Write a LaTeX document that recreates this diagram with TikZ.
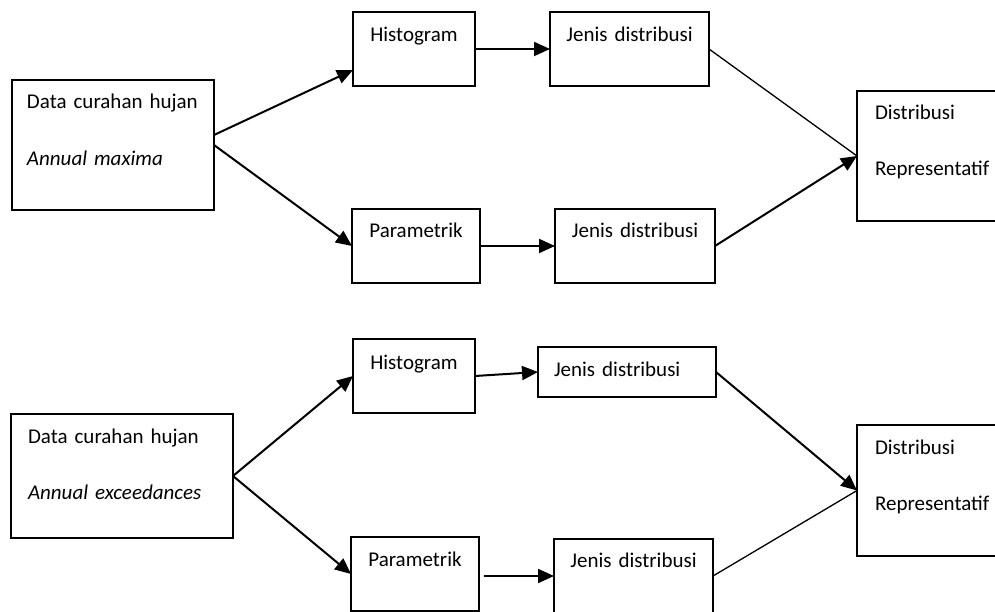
\documentclass[tikz,border=0pt]{standalone}
\usepackage{fontspec}
\setmainfont{Carlito}
\usetikzlibrary{arrows.meta}
\begin{document}
\begin{tikzpicture}[
    x=1pt, y=-1pt,
    box/.style={draw, line width=1.5pt, anchor=north west, outer sep=0pt, inner sep=0pt, align=center, font=\fontsize{21}{56.5}\selectfont},
    arrow/.style={-{Triangle[length=16pt,width=14pt]}, line width=2pt},
    link/.style={line width=1.3pt}
]
    \useasboundingbox (0,0) rectangle (995,612);

    % annual maxima
    \node[box, align=left, inner xsep=15pt, text width=172pt, text height=29pt, text depth=101pt] (data1) at (12,80) {Data curahan hujan\\\textit{Annual maxima}};
    \node[box, text width=122pt, text height=30pt, text depth=44pt] (hist1) at (353,12) {Histogram};
    \node[box, text width=159pt, text height=30pt, text depth=44pt] (jenis1) at (550,12) {Jenis distribusi};
    \node[box, text width=128pt, text height=29pt, text depth=45pt] (param1) at (352,209) {Parametrik};
    \node[box, text width=160pt, text height=29pt, text depth=45pt] (jenis2) at (555,209) {Jenis distribusi};
    \node[box, align=left, inner xsep=18pt, text width=124pt, text height=28.5pt, text depth=101.5pt] (dist1) at (857,91) {Distribusi\\Representatif};

    \draw[arrow] ([yshift=10pt]data1.east) -- ([yshift=-21pt]hist1.west);
    \draw[arrow] (data1.east) -- (param1.west);
    \draw[arrow] (hist1.east) -- (jenis1.west);
    \draw[arrow] (param1.east) -- (jenis2.west);
    \draw[link] (jenis1.east) -- (dist1.west);
    \draw[arrow] (jenis2.east) -- (dist1.west);

    % annual exceedances
    \node[box, align=left, inner xsep=17pt, text width=188pt, text height=29pt, text depth=95pt] (data2) at (11,414) {Data curahan hujan\\\textit{Annual exceedances}};
    \node[box, text width=122pt, text height=30pt, text depth=44pt] (hist2) at (353,339) {Histogram};
    \node[box, align=left, inner xsep=16pt, text width=146pt, text height=29pt, text depth=21pt] (jenis3) at (538,347) {Jenis distribusi};
    \node[box, text width=128pt, text height=29pt, text depth=45pt] (param2) at (351,537) {Parametrik};
    \node[box, text width=159pt, text height=28pt, text depth=46pt] (jenis4) at (554,539) {Jenis distribusi};
    \node[box, align=left, inner xsep=18pt, text width=124pt, text height=29pt, text depth=102pt] (dist2) at (857,425) {Distribusi\\Representatif};

    \draw[arrow] (data2.east) -- (hist2.west);
    \draw[arrow] (data2.east) -- (param2.west);
    \draw[arrow] (hist2.east) -- (jenis3.west);
    \draw[arrow] (jenis4.west -| param2.east) ++(5,0) -- (jenis4.west);
    \draw[arrow] (jenis3.east) -- (dist2.west);
    \draw[link] (jenis4.east) -- (dist2.west);
\end{tikzpicture}
\end{document}
